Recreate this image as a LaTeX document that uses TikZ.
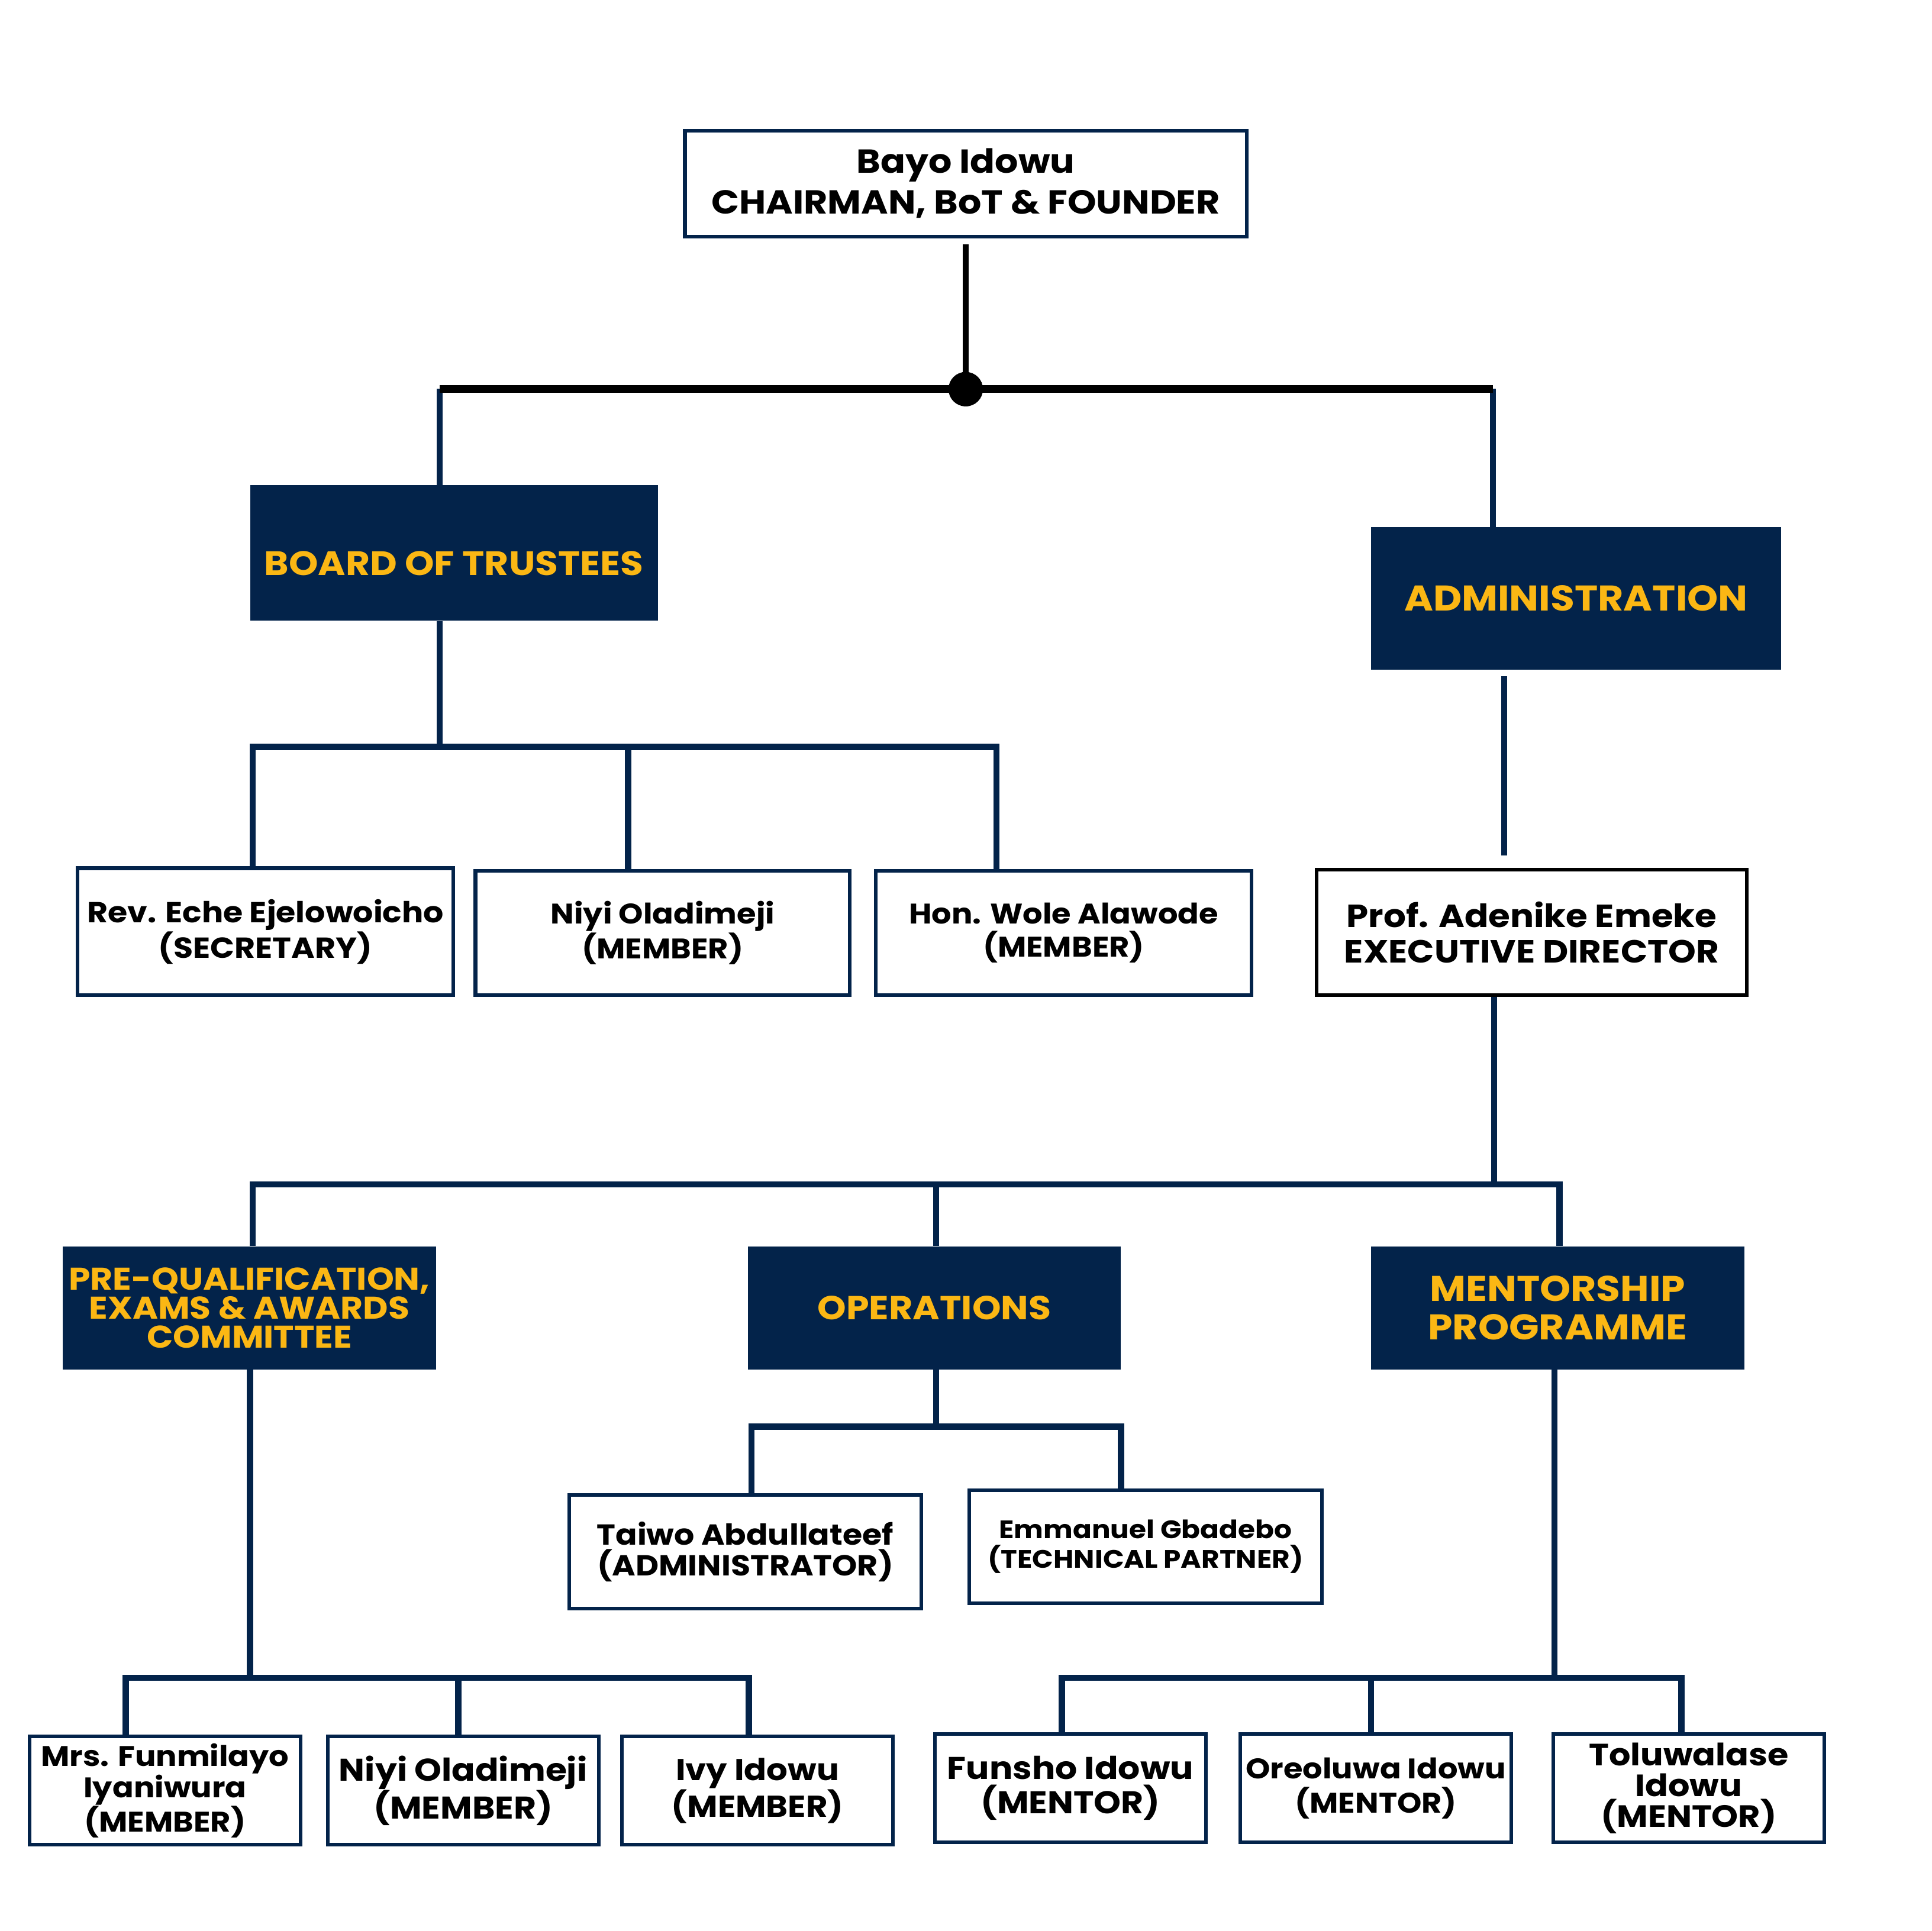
\documentclass[tikz,border=0pt]{standalone}
\usepackage{fontspec}
\setmainfont{Poppins}[FakeStretch=1.1]
\usetikzlibrary{calc}
\definecolor{navy}{HTML}{03234A}
\definecolor{gold}{HTML}{FBB714}
\newcommand\fsz[2]{\bfseries\fontsize{#1}{#2}\selectfont}
\begin{document}
\begin{tikzpicture}[x=1pt,y=-1pt,
  hdr/.style={fill=navy, draw=none, text=gold, inner sep=0pt, align=center},
  pbox/.style={draw=navy, line width=3pt, fill=white, inner sep=0pt, align=center},
  conn/.style={draw=navy, line width=5pt},
  blk/.style={draw=black, line width=6.5pt}]
\fill[white] (0,0) rectangle (1568,1568);
\useasboundingbox (0,0) rectangle (1568,1568);

% level 0
\node[pbox, minimum width=456pt, minimum height=86pt, font=\fsz{27}{33}] (top) at (784,149) {Bayo Idowu\\CHAIRMAN, BoT \& FOUNDER};
\node[circle, fill=black, minimum size=28pt, inner sep=0pt] (hub) at (784,316) {};

% level 1
\node[hdr, minimum width=331pt, minimum height=110pt, font=\fsz{27.5}{34}] (bot) at (368.5,449) {\raisebox{-18pt}[0pt][0pt]{BOARD OF TRUSTEES}};
\node[hdr, minimum width=333pt, minimum height=116pt, font=\fsz{29}{34}] (admin) at (1279.5,486) {ADMINISTRATION};

% level 2
\node[pbox, minimum width=305pt, minimum height=103pt, font=\fsz{23.5}{27}] (rev) at (215.5,756.5) {Rev. Eche Ejelowoicho\\(SECRETARY)};
\node[pbox, minimum width=304pt, minimum height=101pt, font=\fsz{23}{27}] (niyiA) at (538,757.5) {Niyi Oladimeji\\(MEMBER)};
\node[pbox, minimum width=305pt, minimum height=101pt, font=\fsz{23}{27}] (hon) at (863.5,757.5) {Hon. Wole Alawode\\(MEMBER)};
\node[pbox, draw=black, minimum width=349pt, minimum height=102pt, font=\fsz{26}{29}] (ed) at (1243.5,757) {Prof. Adenike Emeke\\EXECUTIVE DIRECTOR};

% level 3
\node[hdr, minimum width=303pt, minimum height=100pt, font=\fsz{25.5}{23.5}] (pq) at (202.5,1062) {PRE-QUALIFICATION,\\EXAMS \& AWARDS\\COMMITTEE};
\node[hdr, minimum width=303pt, minimum height=100pt, font=\fsz{27}{30}] (ops) at (758.5,1062) {OPERATIONS};
\node[hdr, minimum width=303pt, minimum height=100pt, font=\fsz{29}{31}] (mp) at (1264.5,1062) {MENTORSHIP\\PROGRAMME};

% operations staff
\node[pbox, minimum width=286pt, minimum height=92pt, font=\fsz{23.5}{25}] (taiwo) at (605,1260) {Taiwo Abdullateef\\(ADMINISTRATOR)};
\node[pbox, minimum width=286pt, minimum height=92pt, font=\fsz{20.5}{24}] (emm) at (930,1256) {Emmanuel Gbadebo\\(TECHNICAL PARTNER)};

% committee members
\node[pbox, minimum width=220pt, minimum height=88pt, font=\fsz{23}{22}] (mA) at (134,1454) {Mrs. Funmilayo\\Iyaniwura\\(MEMBER)};
\node[pbox, minimum width=220pt, minimum height=88pt, font=\fsz{25.5}{28}] (mB) at (376,1454) {Niyi Oladimeji\\(MEMBER)};
\node[pbox, minimum width=220pt, minimum height=88pt, font=\fsz{24.5}{28}] (mC) at (615,1454) {Ivy Idowu\\(MEMBER)};

% mentors
\node[pbox, minimum width=220pt, minimum height=88pt, font=\fsz{25.5}{28}] (fu) at (869,1452) {Funsho Idowu\\(MENTOR)};
\node[pbox, minimum width=220pt, minimum height=88pt, font=\fsz{23}{28}] (or) at (1117,1452) {Oreoluwa Idowu\\(MENTOR)};
\node[pbox, minimum width=220pt, minimum height=88pt, font=\fsz{25}{25}] (to) at (1371,1452) {Toluwalase\\Idowu\\(MENTOR)};

% connectors: top
\draw[draw=black, line width=5pt] ([yshift=-5pt]top.south) -- (hub.center);
\draw[conn] ([xshift=-11.5pt]bot.north) -- ([xshift=-11.5pt,yshift=78pt]bot.north);
\draw[conn] ([xshift=-67.5pt]admin.north) -- ([xshift=-67.5pt,yshift=112pt]admin.north);
\draw[blk] ([xshift=-11.5pt,yshift=78pt]bot.north) -- ([xshift=-67.5pt,yshift=112pt]admin.north);

% board of trustees
\draw[conn] ([xshift=-11.5pt]bot.south) -- ++(0,104);
\draw[conn] ([xshift=-10.5pt]rev.north) -- ++(0,-97) -| ([xshift=-54.5pt]hon.north);
\draw[conn] ([xshift=-28pt]niyiA.north) -- ++(0,-99);

% administration
\draw[conn] ([xshift=-58.5pt,yshift=-5pt]admin.south) -- ([xshift=-22.5pt,yshift=10pt]ed.north);
\draw[conn] ([xshift=-30.5pt]ed.south) -- ++(0,154);
\draw[conn] ([xshift=2.5pt]pq.north) -- ++(0,-50) -| ([xshift=1.5pt]mp.north);
\draw[conn] ([xshift=1.5pt]ops.north) -- ++(0,-50);

% operations
\draw[conn] ([xshift=1.5pt]ops.south) -- ++(0,48);
\draw[conn] ([xshift=5pt]taiwo.north) -- ++(0,-54) -| ([xshift=-20pt]emm.north);

% committee
\draw[conn] ([xshift=0.5pt]pq.south) -- ++(0,252);
\draw[conn] ([xshift=-32pt]mA.north) -- ++(0,-46) -| ([xshift=-7pt]mC.north);
\draw[conn] ([xshift=-4pt]mB.north) -- ++(0,-46);

% mentorship
\draw[conn] ([xshift=-2.5pt]mp.south) -- ++(0,252);
\draw[conn] ([xshift=-7pt]fu.north) -- ++(0,-44) -| ([xshift=-6pt]to.north);
\draw[conn] ([xshift=-4pt]or.north) -- ++(0,-44);
\end{tikzpicture}
\end{document}
